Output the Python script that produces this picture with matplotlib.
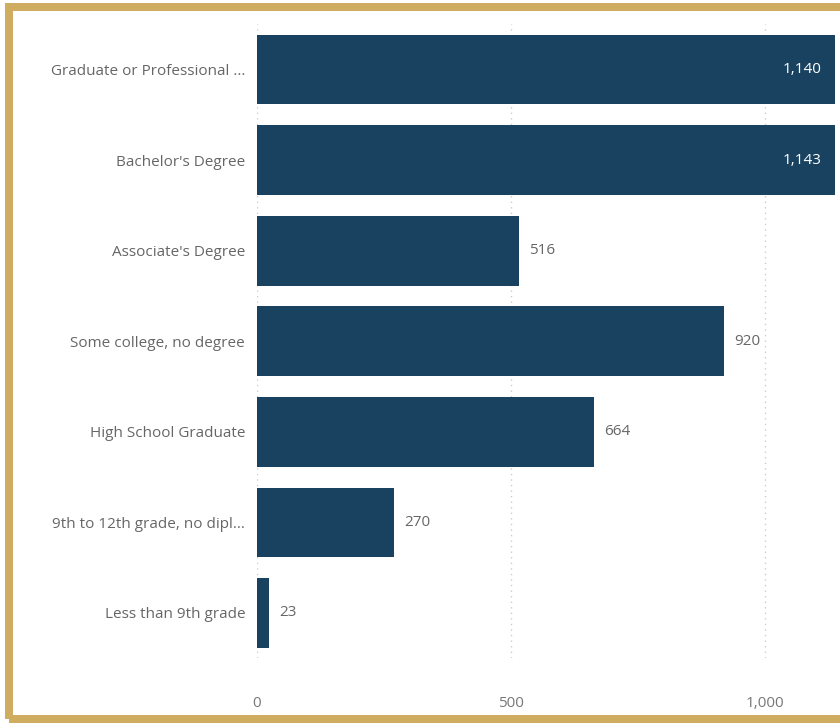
import matplotlib
matplotlib.use("Agg")
import matplotlib.pyplot as plt
from matplotlib.patches import Rectangle
from matplotlib.transforms import IdentityTransform

categories = ["Graduate or Professional ...", "Bachelor's Degree", "Associate's Degree",
              "Some college, no degree", "High School Graduate",
              "9th to 12th grade, no dipl...", "Less than 9th grade"]
values = [1140, 1143, 516, 920, 664, 270, 23]
xticks = [0, 500, 1000]
xtick_labels = ["0", "500", "1,000"]

plt.rcParams['font.family'] = ['Open Sans', 'DejaVu Sans']

W, H = 840, 723
fig = plt.figure(figsize=(W / 100, H / 100), dpi=100)
fig.patch.set_facecolor("white")

left, right = 257 / W, 835 / W
top, bottom = 1 - 24.25 / H, 1 - 658.25 / H
ax = fig.add_axes([left, bottom, right - left, top - bottom])

bar_color = "#18425f"
y = list(range(len(categories)))
ax.barh(y, values, height=0.77, color=bar_color, zorder=2)
ax.set_ylim(len(categories) - 0.5, -0.5)
ax.set_xlim(0, 1138)

fs = 11
ax.set_yticks(y)
ax.set_yticklabels(categories, fontsize=fs, color="#666666")
ax.set_xticks(xticks)
ax.set_xticklabels(xtick_labels, fontsize=fs, color="#777777")
ax.tick_params(axis="both", length=0)
ax.tick_params(axis="y", pad=8.5)
ax.tick_params(axis="x", pad=27)
for s in ax.spines.values():
    s.set_visible(False)
ax.xaxis.grid(True, linestyle=(0, (1, 3)), color="#cccccc", linewidth=1, zorder=0)
ax.set_axisbelow(True)

for yi, v in zip(y, values):
    label = f"{v:,}"
    if v > 1000:
        ax.text(1138 - 26, yi, label, ha="right", va="center", color="white",
                fontsize=fs, zorder=3)
    else:
        ax.text(v + 20, yi, label, ha="left", va="center", color="#666666",
                fontsize=fs, zorder=3)

# gold frame
frame = Rectangle((9, 4), W + 20, H - 11, transform=IdentityTransform(),
                  fill=False, edgecolor="#cfac60", linewidth=8 * 0.72, zorder=10)
fig.patches.append(frame)

fig.savefig("out.png", dpi=100, facecolor="white")
